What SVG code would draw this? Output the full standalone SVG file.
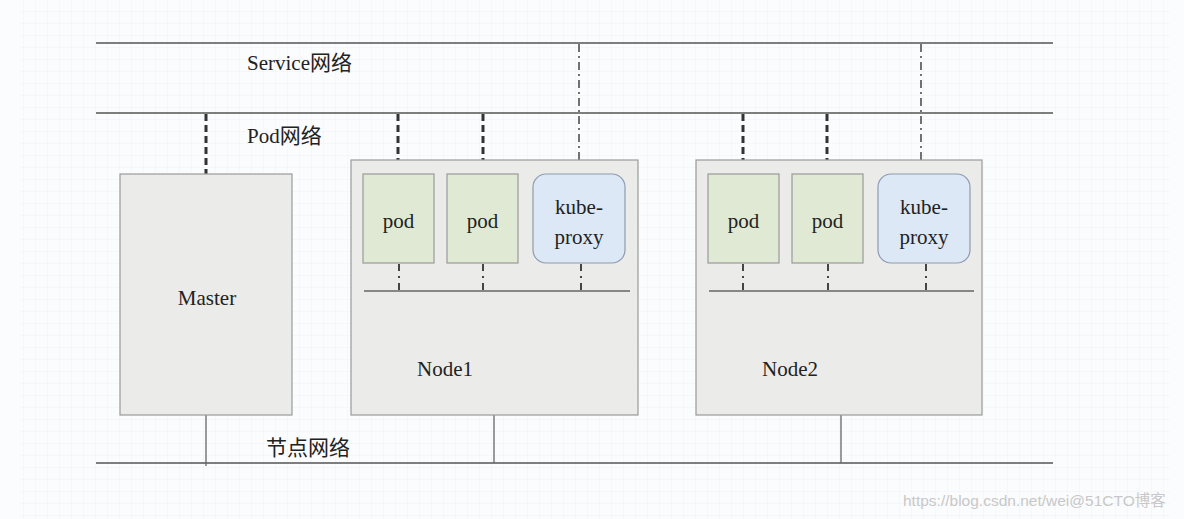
<svg xmlns="http://www.w3.org/2000/svg" width="1184" height="519" viewBox="0 0 1184 519">
<defs>
<style>
.net{stroke:#555;stroke-width:1.5;fill:none}
.sol{stroke:#666;stroke-width:1.3;fill:none}
.dash{stroke:#333;stroke-width:3;stroke-dasharray:7 4;fill:none}
.dd{stroke:#444;stroke-width:1.5;stroke-dasharray:8 4 2 4;fill:none}
.ddb{stroke:#444;stroke-width:2;stroke-dasharray:7 5 2 5;fill:none}
.box{fill:#ebebe9;stroke:#9a9a9a;stroke-width:1.2}
.pod{fill:#dfe9d3;stroke:#9a9a9a;stroke-width:1.2}
.kp{fill:#dce8f6;stroke:#8e9bb0;stroke-width:1.2}
.t{font-family:"Liberation Serif","Noto Sans CJK SC",serif;font-size:21px;fill:#222}
.tc{font-family:"Liberation Serif","Noto Sans CJK SC",serif;font-size:21px;fill:#222;text-anchor:middle}
.wm{font-family:"Liberation Sans","Noto Sans CJK SC",sans-serif;font-size:15.5px;fill:#c8c8c8}
</style>
<pattern id="grid" width="12" height="12" patternUnits="userSpaceOnUse">
<path d="M12 0V12M0 12H12" stroke="#eef2f6" stroke-width="1" fill="none"/>
</pattern>
</defs>
<rect width="1184" height="519" fill="#fbfcfd"/>
<rect x="20" y="0" width="1150" height="519" fill="url(#grid)"/>

<g id="connectors">
<line class="net" x1="96" y1="43" x2="1053" y2="43"/>
<line class="net" x1="96" y1="113" x2="1053" y2="113"/>
<line class="net" x1="96" y1="463" x2="1053" y2="463"/>
<line class="dash" x1="206" y1="114" x2="206" y2="174"/>
<line class="dash" x1="398" y1="114" x2="398" y2="174"/>
<line class="dash" x1="483" y1="114" x2="483" y2="174"/>
<line class="dash" x1="743" y1="114" x2="743" y2="174"/>
<line class="dash" x1="827" y1="114" x2="827" y2="174"/>
<line class="dd" x1="579" y1="44" x2="579" y2="174"/>
<line class="dd" x1="921" y1="44" x2="921" y2="174"/>
<line class="sol" x1="206" y1="415" x2="206" y2="466"/>
<line class="sol" x1="494" y1="415" x2="494" y2="463"/>
<line class="sol" x1="841" y1="415" x2="841" y2="463"/>
</g>

<g id="master">
<rect class="box" x="120" y="174" width="172" height="241"/>
<text class="tc" x="207" y="305">Master</text>
</g>

<g id="node1">
<rect class="box" x="351" y="160" width="287" height="255"/>
<line class="sol" x1="364" y1="291" x2="630" y2="291"/>
<line class="ddb" x1="399" y1="264" x2="399" y2="291"/>
<line class="ddb" x1="483" y1="264" x2="483" y2="291"/>
<line class="ddb" x1="581" y1="264" x2="581" y2="291"/>
<text class="tc" x="445" y="376">Node1</text>
</g>
<g id="node1-pod1">
<rect class="pod" x="363" y="174" width="71" height="89"/>
<text class="tc" x="398.5" y="228">pod</text>
</g>
<g id="node1-pod2">
<rect class="pod" x="447" y="174" width="71" height="89"/>
<text class="tc" x="482.5" y="228">pod</text>
</g>
<g id="node1-kube-proxy">
<rect class="kp" x="533" y="174" width="92" height="89" rx="13"/>
<text class="tc" x="579" y="214">kube-</text>
<text class="tc" x="579" y="244">proxy</text>
</g>

<g id="node2">
<rect class="box" x="696" y="160" width="286" height="255"/>
<line class="sol" x1="709" y1="291" x2="974" y2="291"/>
<line class="ddb" x1="743" y1="264" x2="743" y2="291"/>
<line class="ddb" x1="828" y1="264" x2="828" y2="291"/>
<line class="ddb" x1="926" y1="264" x2="926" y2="291"/>
<text class="tc" x="790" y="376">Node2</text>
</g>
<g id="node2-pod1">
<rect class="pod" x="708" y="174" width="71" height="89"/>
<text class="tc" x="743.5" y="228">pod</text>
</g>
<g id="node2-pod2">
<rect class="pod" x="792" y="174" width="71" height="89"/>
<text class="tc" x="827.5" y="228">pod</text>
</g>
<g id="node2-kube-proxy">
<rect class="kp" x="878" y="174" width="92" height="89" rx="13"/>
<text class="tc" x="924" y="214">kube-</text>
<text class="tc" x="924" y="244">proxy</text>
</g>

<g id="labels">
<text class="t" x="247" y="70">Service网络</text>
<text class="t" x="247" y="143">Pod网络</text>
<text class="t" x="266" y="455">节点网络</text>
<text class="wm" x="903" y="506">https://blog.csdn.net/wei@51CTO博客</text>
</g>
</svg>
